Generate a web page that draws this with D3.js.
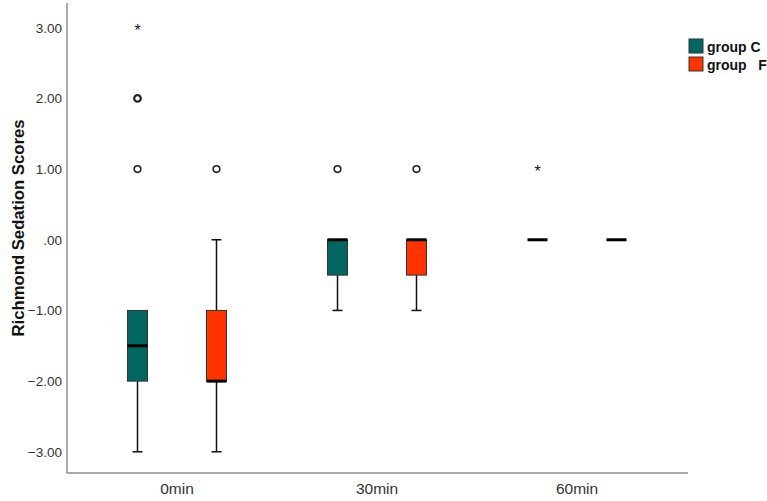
<!DOCTYPE html>
<html>
<head>
<meta charset="utf-8">
<script src="https://cdn.jsdelivr.net/npm/d3@7"></script>
<style>
  body { margin: 0; background: #fff; }
  svg { display: block; font-family: 'Liberation Sans', Arial, sans-serif; }
</style>
</head>
<body>
<div id="chart"></div>
<script>
const categories = ['0min', '30min', '60min']
const groups = ['group C', 'group F']
const groupLabels = ['group C', 'group   F']
const groupColors = ['#00665f', '#ff3300']
const yTicks = [3, 2, 1, 0, -1, -2, -3]

// box stats per group, one value per category
const lowWhisker = {'group C': [-3, -1, 0], 'group F': [-3, -1, 0]}
const q1 = {'group C': [-2, -0.5, 0], 'group F': [-2, -0.5, 0]}
const median = {'group C': [-1.5, 0, 0], 'group F': [-2, 0, 0]}
const q3 = {'group C': [-1, 0, 0], 'group F': [-1, 0, 0]}
const highWhisker = {'group C': [-1, 0, 0], 'group F': [0, 0, 0]}
const outliers = {'group C': [[1, 2], [1], []], 'group F': [[1], [1], []]}
const extremes = {'group C': [[3], [], [1]], 'group F': [[], [], []]}

const svgWidth = 767
const svgHeight = 501
const left = 67
const bottom = 473

const svg = d3.select('#chart').append('svg')
  .attr('width', svgWidth)
  .attr('height', svgHeight)

const x = d3.scaleBand()
  .domain(categories)
  .range([77, 677])
const x1 = d3.scalePoint()
  .domain(groups)
  .range([0, x.bandwidth()])
  .padding(0.766)
const y = d3.scaleLinear()
  .domain([-3.3, 3.35])
  .range([bottom, 3])

// axes
svg.append('line')
  .attr('x1', left).attr('x2', left)
  .attr('y1', y(3.35)).attr('y2', bottom)
  .attr('stroke', '#555').attr('stroke-width', 1)
svg.append('line')
  .attr('x1', left).attr('x2', 688)
  .attr('y1', bottom).attr('y2', bottom)
  .attr('stroke', '#555').attr('stroke-width', 1)

const yAxis = d3.axisLeft(y)
  .tickValues(yTicks)
  .tickSize(0)
  .tickPadding(5)
  .tickFormat(d => d === 0 ? '.00' : d3.format('.2f')(d))
svg.append('g')
  .attr('transform', 'translate(' + left + ',0)')
  .call(yAxis)
  .call(g => g.select('.domain').remove())
  .selectAll('text')
  .attr('font-size', 13.5)
  .attr('font-family', "'Liberation Sans', Arial, sans-serif")
  .attr('fill', '#333')

const xAxis = d3.axisBottom(x).tickSize(0).tickPadding(10)
svg.append('g')
  .attr('transform', 'translate(0,' + bottom + ')')
  .call(xAxis)
  .call(g => g.select('.domain').remove())
  .selectAll('text')
  .attr('font-size', 15.5)
  .attr('font-family', "'Liberation Sans', Arial, sans-serif")
  .attr('fill', '#333')

svg.append('text')
  .attr('transform', 'translate(24,228) rotate(-90)')
  .attr('text-anchor', 'middle')
  .attr('font-size', 16.7)
  .attr('font-weight', 'bold')
  .attr('fill', '#111')
  .text('Richmond Sedation Scores')

// boxes
const boxW = 20
const capW = 10
groups.forEach((grp, gi) => {
  categories.forEach((cat, ci) => {
    const cx = x(cat) + x1(grp)
    const g = svg.append('g')
    if (lowWhisker[grp][ci] < q1[grp][ci]) {
      g.append('line')
        .attr('x1', cx).attr('x2', cx)
        .attr('y1', y(lowWhisker[grp][ci])).attr('y2', y(q1[grp][ci]))
        .attr('stroke', '#111').attr('stroke-width', 1.5)
      g.append('line')
        .attr('x1', cx - capW / 2).attr('x2', cx + capW / 2)
        .attr('y1', y(lowWhisker[grp][ci])).attr('y2', y(lowWhisker[grp][ci]))
        .attr('stroke', '#111').attr('stroke-width', 1.5)
    }
    if (highWhisker[grp][ci] > q3[grp][ci]) {
      g.append('line')
        .attr('x1', cx).attr('x2', cx)
        .attr('y1', y(highWhisker[grp][ci])).attr('y2', y(q3[grp][ci]))
        .attr('stroke', '#111').attr('stroke-width', 1.5)
      g.append('line')
        .attr('x1', cx - capW / 2).attr('x2', cx + capW / 2)
        .attr('y1', y(highWhisker[grp][ci])).attr('y2', y(highWhisker[grp][ci]))
        .attr('stroke', '#111').attr('stroke-width', 1.5)
    }
    if (q3[grp][ci] > q1[grp][ci]) {
      g.append('rect')
        .attr('x', cx - boxW / 2)
        .attr('y', y(q3[grp][ci]))
        .attr('width', boxW)
        .attr('height', y(q1[grp][ci]) - y(q3[grp][ci]))
        .attr('fill', groupColors[gi])
        .attr('stroke', '#333').attr('stroke-width', 1)
    }
    g.append('line')
      .attr('x1', cx - boxW / 2).attr('x2', cx + boxW / 2)
      .attr('y1', y(median[grp][ci])).attr('y2', y(median[grp][ci]))
      .attr('stroke', '#000').attr('stroke-width', 3)

    outliers[grp][ci].forEach((v, oi) => {
      g.append('circle')
        .attr('cx', cx).attr('cy', y(v))
        .attr('r', 3.3)
        .attr('fill', '#fff')
        .attr('stroke', '#222').attr('stroke-width', v === 2 ? 2.2 : 1.6)
    })
    extremes[grp][ci].forEach(v => {
      g.append('text')
        .attr('x', cx).attr('y', y(v) + 8)
        .attr('text-anchor', 'middle')
        .attr('font-size', 16)
        .attr('fill', '#111')
        .text('*')
    })
  })
})

// legend
const legend = svg.append('g')
  .attr('transform', 'translate(689,39)')
groups.forEach((grp, gi) => {
  legend.append('rect')
    .attr('x', 0).attr('y', gi * 18)
    .attr('width', 14).attr('height', 14)
    .attr('fill', groupColors[gi])
    .attr('stroke', '#333').attr('stroke-width', 1)
  legend.append('text')
    .attr('x', 18).attr('y', gi * 18 + 12.5)
    .attr('font-size', 14)
    .attr('font-weight', 'bold')
    .attr('fill', '#111')
    .style('white-space', 'pre')
    .text(groupLabels[gi])
})
</script>
</body>
</html>
